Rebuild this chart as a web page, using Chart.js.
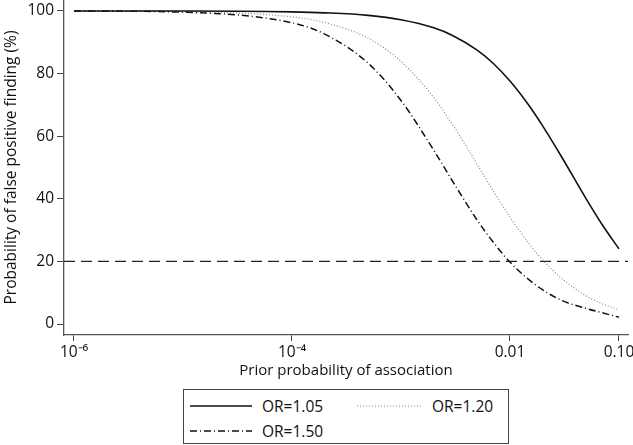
<!DOCTYPE html>
<html>
<head>
<meta charset="utf-8">
<script src="https://cdn.jsdelivr.net/npm/chart.js@4.4.1/dist/chart.umd.min.js"></script>
<style>
  body { margin: 0; background: #fff; font-family: "Open Sans", sans-serif; }
  #wrap { position: relative; width: 633px; height: 445px; }
  #legend { position: absolute; left: 183px; top: 389px; width: 326px; height: 55px;
            box-sizing: border-box; border: 1px solid #444; font-size: 15.5px; color: #111; }
  .item { position: absolute; height: 20px; line-height: 20px; }
  .item svg { position: absolute; top: 4px; left: 0; }
  .item span { position: absolute; white-space: nowrap; }
</style>
</head>
<body>
<div id="wrap">
  <canvas id="myChart" width="633" height="380"></canvas>
  <div id="legend"></div>
</div>
<script>
// prior probability of association (x)
var priors = [1e-6, 1e-5, 1e-4, 2e-4, 5e-4, 1e-3, 2e-3, 3e-3, 5e-3, 7e-3, 0.01, 0.015, 0.02, 0.03, 0.05, 0.07, 0.1];
// probability of false positive finding (%)
var or105 = [100, 100, 99.7, 99.4, 98.6, 97.2, 94.6, 92.1, 87.5, 83.3, 77.6, 69.7, 63.2, 53.2, 40.0, 31.8, 24.0];
var or120 = [100, 99.8, 98.1, 96.3, 91.3, 83.9, 72.3, 63.5, 51.0, 42.6, 34.2, 25.6, 20.4, 14.5, 9.0, 6.5, 4.5];
var or150 = [100, 99.6, 96.2, 92.6, 83.3, 71.4, 55.5, 45.4, 33.2, 26.2, 19.8, 14.1, 10.9, 7.5, 5.0, 3.6, 2.2];
var labels = ["OR=1.05", "OR=1.20", "OR=1.50"];

var refLevel = 20;
var xMin = 8.1e-7, xMax = 0.121;
var xTicks = [1e-6, 1e-4, 0.01, 0.1];
var xTickLabels = ["10\u207B\u2076", "10\u207B\u2074", "0.01", "0.10"];
var yTicks = [0, 20, 40, 60, 80, 100];

function toPoints(xs, ys) {
    var pts = [];
    for (var i = 0; i < xs.length; i++) pts.push({x: xs[i], y: ys[i]});
    return pts;
}

var tickFont = {family: '"Open Sans", sans-serif', size: 15.5};
var xTitleFont = {family: '"Open Sans", sans-serif', size: 15};
var yTitleFont = {family: '"Open Sans", sans-serif', size: 15.5};

var styles = [
    {borderColor: "#111", borderWidth: 1.6, borderDash: []},
    {borderColor: "#888", borderWidth: 1.2, borderDash: [1, 2]},
    {borderColor: "#111", borderWidth: 1.5, borderDash: [7, 3, 1, 3]}
];
var series = [or105, or120, or150];

var datasets = [];
for (var s = 0; s < series.length; s++) {
    datasets.push({
        label: labels[s],
        data: toPoints(priors, series[s]),
        borderColor: styles[s].borderColor,
        borderWidth: styles[s].borderWidth,
        borderDash: styles[s].borderDash,
        pointRadius: 0,
        fill: false,
        cubicInterpolationMode: "monotone"
    });
}
// horizontal reference line at 20%
datasets.push({
    label: "ref",
    data: [{x: xMin, y: refLevel}, {x: xMax, y: refLevel}],
    borderColor: "#222",
    borderWidth: 1.3,
    borderDash: [11, 6],
    pointRadius: 0,
    fill: false
});

new Chart(document.getElementById("myChart"), {
    type: "line",
    data: {datasets: datasets},
    options: {
        responsive: false,
        animation: false,
        layout: {padding: {left: 0, right: 5, top: 0, bottom: 0}},
        plugins: {legend: {display: false}, tooltip: {enabled: false}},
        scales: {
            x: {
                type: "logarithmic",
                min: xMin,
                max: xMax,
                afterBuildTicks: function (scale) {
                    scale.ticks = xTicks.map(function (v) { return {value: v}; });
                },
                afterFit: function (scale) {
                    scale.height = 45;
                    scale.paddingLeft = 0;
                    scale.paddingRight = 0;
                },
                ticks: {
                    color: "#111",
                    font: tickFont,
                    padding: 2,
                    maxRotation: 0,
                    autoSkip: false,
                    callback: function (v) {
                        var i = xTicks.indexOf(v);
                        return i >= 0 ? xTickLabels[i] : "";
                    }
                },
                grid: {drawOnChartArea: false, color: "#444", tickLength: 6},
                border: {color: "#555", width: 1.3},
                title: {display: true, text: "Prior probability of association", color: "#111", font: xTitleFont, padding: 0}
            },
            y: {
                min: -3.5,
                max: 103.5,
                afterBuildTicks: function (scale) {
                    scale.ticks = yTicks.map(function (v) { return {value: v}; });
                },
                afterFit: function (scale) {
                    scale.width = 64;
                    // let the plot reach the top edge like the original
                    scale.paddingTop = 0;
                    scale.paddingBottom = 0;
                },
                ticks: {color: "#111", font: tickFont, padding: 3},
                grid: {drawOnChartArea: false, color: "#444", tickLength: 7},
                border: {color: "#555", width: 1.3},
                title: {display: true, text: "Probability of false positive finding (%)", color: "#111", font: yTitleFont, padding: {top: 2, bottom: 0}}
            }
        }
    }
});

// legend box under the chart
var legendItems = [
    {left: 6, top: 6, idx: 0},
    {left: 173, top: 6, idx: 1},
    {left: 6, top: 31, idx: 2}
];
var legend = document.getElementById("legend");
legendItems.forEach(function (it) {
    var st = styles[it.idx];
    var w = it.idx == 1 ? 65 : 62;
    var div = document.createElement("div");
    div.className = "item";
    div.style.left = it.left + "px";
    div.style.top = it.top + "px";
    div.innerHTML = '<svg width="' + w + '" height="12"><line x1="0" y1="6" x2="' + w + '" y2="6" stroke="' + st.borderColor +
        '" stroke-width="' + st.borderWidth + '" stroke-dasharray="' + (st.borderDash.length ? st.borderDash.join(",") : "none") + '"/></svg>' +
        '<span style="left:' + (w + 10) + 'px">' + labels[it.idx] + '</span>';
    legend.appendChild(div);
});
</script>
</body>
</html>
